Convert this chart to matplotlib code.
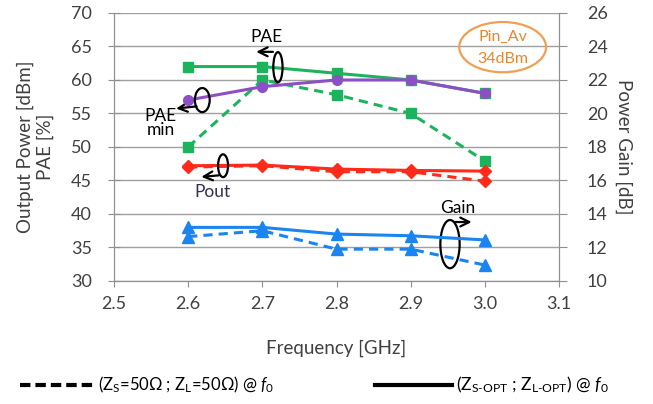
import matplotlib
matplotlib.use("Agg")
import matplotlib.pyplot as plt
from matplotlib.patches import Ellipse
from matplotlib.lines import Line2D

plt.rcParams['font.family'] = ['Lato', 'DejaVu Sans']
plt.rcParams['mathtext.fontset'] = 'custom'
plt.rcParams['mathtext.rm'] = 'Lato'
plt.rcParams['mathtext.it'] = 'Lato:italic'

freq = [2.6, 2.7, 2.8, 2.9, 3.0]

# left axis: PAE [%] and Pout [dBm]
pae_opt = [62.0, 62.0, 61.0, 60.0, 58.0]
pae_50 = [50.0, 60.0, 57.8, 55.0, 47.9]
pae_min = [57.0, 59.0, 60.0, 60.0, 58.0]
pout_opt = [47.2, 47.3, 46.7, 46.5, 46.4]
pout_50 = [47.0, 47.2, 46.3, 46.3, 44.9]

# right axis: gain [dB]
gain_opt = [13.2, 13.2, 12.8, 12.7, 12.45]
gain_50 = [12.65, 13.0, 11.9, 11.9, 10.95]

green = '#1db35c'
purple = '#8d4fc6'
red = '#ff2a1a'
blue = '#1a84f0'
orange = '#f0a050'
txt = '#404040'

fig = plt.figure(figsize=(6.53, 4.04), dpi=100)
ax = fig.add_axes([0.1746, 0.3045, 0.6815, 0.6634])
ax2 = ax.twinx()

lw = 2.2
ax.plot(freq, pae_opt, color=green, lw=lw, marker='s', ms=7, zorder=3)
ax.plot(freq, pae_50, color=green, lw=lw, ls='--', dashes=(3, 2), marker='s', ms=7, zorder=3)
ax.plot(freq, pae_min, color=purple, lw=lw, marker='o', ms=7, zorder=4)
ax.plot(freq, pout_opt, color=red, lw=lw, marker='D', ms=6, zorder=3)
ax.plot(freq, pout_50, color=red, lw=lw, ls='--', dashes=(3, 2), marker='D', ms=6, zorder=3)
ax2.plot(freq, gain_opt, color=blue, lw=lw, marker='^', ms=8)
ax2.plot(freq, gain_50, color=blue, lw=lw, ls='--', dashes=(3, 2), marker='^', ms=8)

ax.set_xlim(2.5, 3.1)
ax.set_ylim(30, 70)
ax.set_yticks(range(30, 71, 5))
ax.set_xticks([2.5, 2.6, 2.7, 2.8, 2.9, 3.0, 3.1])
ax.set_xticklabels(['2.5', '2.6', '2.7', '2.8', '2.9', '3.0', '3.1'])
ax2.set_ylim(10, 26)
ax2.set_yticks(range(10, 27, 2))

ax.grid(axis='y', color='#a0a0a0', lw=1)
ax.set_axisbelow(True)
for a in (ax, ax2):
    a.spines['top'].set_visible(False)
    for s in ('left', 'right', 'bottom'):
        a.spines[s].set_color('#909090')
ax.tick_params(axis='y', direction='inout', length=8, color='#909090', labelsize=13, labelcolor=txt, pad=12)
ax.tick_params(axis='x', direction='out', length=4, color='#909090', labelsize=13, labelcolor=txt, pad=7)
ax2.tick_params(axis='y', direction='out', length=6, color='#909090', labelsize=13, labelcolor=txt, pad=14)

ax.set_ylabel('Output Power [dBm]\nPAE [%]', fontsize=13.5, color=txt, labelpad=12)
ax2.set_ylabel('Power Gain [dB]', fontsize=13.5, color=txt, rotation=-90, labelpad=18)
ax.set_xlabel('Frequency [GHz]', fontsize=13.5, color=txt, labelpad=20)

# annotations: ellipses + arrows
def loop(a, cx, cy, w, h, color='black'):
    a.add_patch(Ellipse((cx, cy), w, h, fill=False, ec=color, lw=1.6, zorder=5))

arr = dict(arrowstyle='->', color='black', lw=1.6, mutation_scale=16)
loop(ax, 2.721, 61.9, 0.0125, 4.5)
ax.annotate('', xy=(2.688, 64.2), xytext=(2.718, 64.2), arrowprops=arr)
ax.text(2.706, 66.4, 'PAE', ha='center', va='center', fontsize=12.5, color='black')

loop(ax, 2.619, 57.0, 0.020, 3.6)
ax.annotate('', xy=(2.580, 55.7), xytext=(2.615, 56.1), arrowprops=arr)
ax.text(2.563, 53.6, 'PAE\nmin', ha='center', va='center', fontsize=12.5, color='black', linespacing=0.85)

loop(ax, 2.647, 47.2, 0.0135, 3.4)
ax.annotate('', xy=(2.614, 45.5), xytext=(2.645, 45.8), arrowprops=arr)
ax.text(2.633, 43.3, 'Pout', ha='center', va='center', fontsize=12.5, color='#303050')

loop(ax, 2.953, 35.5, 0.026, 7.2)
ax.annotate('', xy=(2.986, 38.8), xytext=(2.955, 38.8), arrowprops=arr)
ax.text(2.964, 40.9, 'Gain', ha='center', va='center', fontsize=12.5, color='black')

loop(ax, 3.024, 64.9, 0.117, 7.5, color=orange)
ax.text(3.024, 66.4, 'Pin_Av', ha='center', va='center', fontsize=11.5, color='#e8862e')
ax.text(3.024, 63.1, '34dBm', ha='center', va='center', fontsize=11.5, color='#e8862e')

# legend drawn by hand along the bottom
W, H = 653.0, 404.0
ly = 1 - 385 / H
fig.add_artist(Line2D([20 / W, 95 / W], [ly, ly], color='black', lw=3, ls='--', dashes=(2.5, 1.2)))
fig.add_artist(Line2D([375 / W, 452 / W], [ly, ly], color='black', lw=3))
fig.text(98 / W, ly, r'(Z$_\mathregular{S}$=50Ω ; Z$_\mathregular{L}$=50Ω) @ $\mathit{f}_\mathit{0}$',
         ha='left', va='center', fontsize=12)
fig.text(456 / W, ly, r'(Z$_\mathregular{S\text{-}OPT}$ ; Z$_\mathregular{L\text{-}OPT}$) @ $\mathit{f}_\mathit{0}$',
         ha='left', va='center', fontsize=12.5)

fig.savefig('out.png', dpi=100)
